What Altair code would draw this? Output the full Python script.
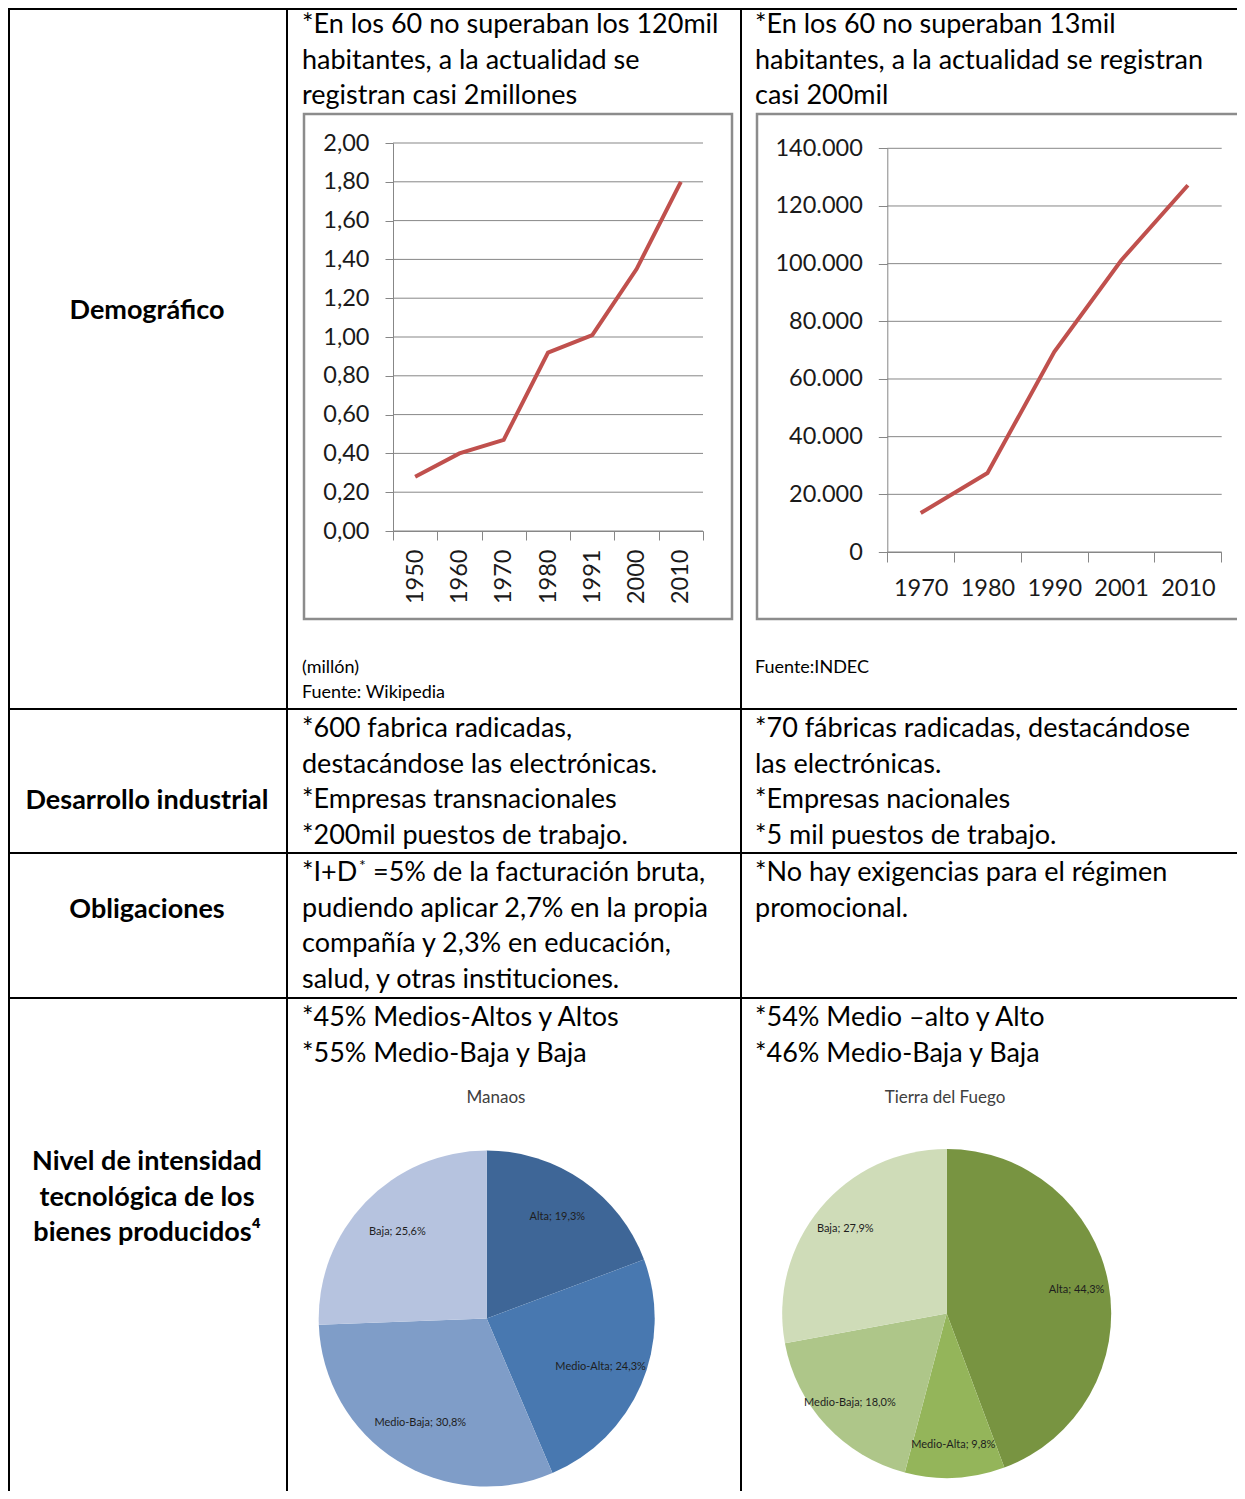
import altair as alt
import pandas as pd

# ---------------- data ----------------
years_manaos = ["1950", "1960", "1970", "1980", "1991", "2000", "2010"]
pop_manaos = [0.28, 0.40, 0.47, 0.92, 1.01, 1.35, 1.80]          # millones
ticks_manaos = [0.0, 0.2, 0.4, 0.6, 0.8, 1.0, 1.2, 1.4, 1.6, 1.8, 2.0]

years_tdf = ["1970", "1980", "1990", "2001", "2010"]
pop_tdf = [13500, 27400, 69400, 101100, 127200]
ticks_tdf = [0, 20000, 40000, 60000, 80000, 100000, 120000, 140000]

pie_cats = ["Alta", "Medio-Alta", "Medio-Baja", "Baja"]
pie_order = [0, 1, 2, 3]
pie_manaos = [19.3, 24.3, 30.8, 25.6]
pie_tdf = [44.3, 9.8, 18.0, 27.9]
colors_manaos = ["#3e6697", "#4878b0", "#7f9dc8", "#b6c3df"]
colors_tdf = ["#789441", "#94b55a", "#aec689", "#cfdcb8"]

row_labels = ["Demográfico", "Desarrollo industrial", "Obligaciones",
              ["Nivel de intensidad", "tecnológica de los", "bienes producidos⁴"]]
demo_manaos = ["*En los 60 no superaban los 120mil", "habitantes, a la actualidad se",
               "registran casi 2millones"]
demo_tdf = ["*En los 60 no superaban 13mil", "habitantes, a la actualidad se registran",
            "casi 200mil"]
src_manaos = ["(millón)", "Fuente: Wikipedia"]
src_tdf = ["Fuente:INDEC"]
ind_manaos = ["*600 fabrica radicadas,", "destacándose las electrónicas.",
              "*Empresas transnacionales", "*200mil puestos de trabajo."]
ind_tdf = ["*70 fábricas radicadas, destacándose", "las electrónicas.",
           "*Empresas nacionales", "*5 mil puestos de trabajo."]
obl_manaos_first = ["*I+D", "*", "=5% de la facturación bruta,"]
obl_manaos_rest = ["pudiendo aplicar 2,7% en la propia", "compañía y 2,3% en educación,",
                   "salud, y otras instituciones."]
obl_tdf = ["*No hay exigencias para el régimen", "promocional."]
niv_manaos = ["*45% Medios-Altos y Altos", "*55% Medio-Baja y Baja"]
niv_tdf = ["*54% Medio –alto y Alto", "*46% Medio-Baja y Baja"]
pie_titles = ["Manaos", "Tierra del Fuego"]

# ---------------- layout constants ----------------
W, H = 1229, 1483
FONT = "Lato"
TS = 27          # table text size
LH = 35.5
GRID = "#878787"
RED = "#c0504d"

dummy = pd.DataFrame({"k": [0]})


def txt(lines, x, y, size=TS, bold=False, align="left", color="black", lh=LH, baseline="alphabetic"):
    return alt.Chart(dummy).mark_text(
        align=align, baseline=baseline, font=FONT, fontSize=size,
        fontWeight="bold" if bold else "normal", lineHeight=lh, color=color
    ).encode(x=alt.value(x), y=alt.value(y), text=alt.value(lines))


def vrule(x):
    return alt.Chart(dummy).mark_rule(color="black", strokeWidth=2).encode(
        x=alt.value(x), y=alt.value(0), y2=alt.value(H))


def hrule(y):
    return alt.Chart(dummy).mark_rule(color="black", strokeWidth=2).encode(
        y=alt.value(y), x=alt.value(0), x2=alt.value(W))


def frame(x0, y0, x1, y1):
    return alt.Chart(dummy).mark_rect(fillOpacity=0, stroke="#8c8c8c", strokeWidth=2.5).encode(
        x=alt.value(x0), y=alt.value(y0), x2=alt.value(x1), y2=alt.value(y1))


layers = []

# table grid
for xv in [1, 279, 733]:
    layers.append(vrule(xv))
for yv in [1, 701, 845, 990]:
    layers.append(hrule(yv))

# column 1 labels
layers.append(txt(row_labels[0], 139, 311, bold=True, align="center"))
layers.append(txt(row_labels[1], 139, 801, bold=True, align="center"))
layers.append(txt(row_labels[2], 139, 910, bold=True, align="center"))
layers.append(txt(row_labels[3], 139, 1162, bold=True, align="center"))

# row texts
layers.append(txt(demo_manaos, 294, 25))
layers.append(txt(demo_tdf, 747, 25))
layers.append(txt(src_manaos, 294, 664.5, size=18, lh=25.7))
layers.append(txt(src_tdf, 747, 664.5, size=18))
layers.append(txt(ind_manaos, 294, 729))
layers.append(txt(ind_tdf, 747, 729))
layers.append(txt(obl_manaos_first[0], 294, 873))
layers.append(txt(obl_manaos_first[1], 351, 863, size=16))
layers.append(txt(obl_manaos_first[2], 365, 873))
layers.append(txt(obl_manaos_rest, 294, 908.5))
layers.append(txt(obl_tdf, 747, 873))
layers.append(txt(niv_manaos, 294, 1018))
layers.append(txt(niv_tdf, 747, 1018))

# chart frames
layers.append(frame(296, 106, 724, 611))
layers.append(frame(749, 106, 1250, 611))

AX_LABEL = dict(labelFont=FONT, labelFontSize=23.5, labelColor="#1a1a1a",
                title=None, grid=False, labelOverlap=False,
                tickColor=GRID, domainColor=GRID)

# ---------------- line chart Manaos ----------------
df_m = pd.DataFrame({"year": years_manaos, "value": pop_manaos})
df_mt = pd.DataFrame({"value": ticks_manaos})
m_yscale = alt.Scale(domain=[0, 2], range=[523, 135], nice=False, zero=False)
m_yaxis = alt.Axis(orient="left", offset=-385, values=ticks_manaos,
                   labelExpr="replace(format(datum.value, '.2f'), '.', ',')",
                   tickSize=8, labelPadding=16, **AX_LABEL)
m_grid = alt.Chart(df_mt).mark_rule(color=GRID, strokeWidth=1).encode(
    y=alt.Y("value:Q", scale=m_yscale, axis=m_yaxis),
    x=alt.value(385), x2=alt.value(695))
m_line = alt.Chart(df_m).mark_line(color=RED, strokeWidth=4).encode(
    x=alt.X("year:O", sort=years_manaos,
            scale=alt.Scale(type="band", domain=years_manaos, range=[385, 695],
                            paddingInner=0, paddingOuter=0),
            axis=alt.Axis(orient="bottom", offset=523 - H, labelAngle=-90, tickBand="extent",
                          tickSize=9, labelPadding=9, **AX_LABEL)),
    y=alt.Y("value:Q", scale=m_yscale, axis=m_yaxis))
layers.append(alt.layer(m_grid, m_line))

# ---------------- line chart Tierra del Fuego ----------------
df_t = pd.DataFrame({"year": years_tdf, "value": pop_tdf})
df_tt = pd.DataFrame({"value": ticks_tdf})
t_yscale = alt.Scale(domain=[0, 140000], range=[544, 140.3], nice=False, zero=False)
t_yaxis = alt.Axis(orient="left", offset=-879.3, values=ticks_tdf,
                   labelExpr="replace(format(datum.value, ',d'), ',', '.')",
                   tickSize=9, labelPadding=16, **AX_LABEL)
t_grid = alt.Chart(df_tt).mark_rule(color=GRID, strokeWidth=1).encode(
    y=alt.Y("value:Q", scale=t_yscale, axis=t_yaxis),
    x=alt.value(879.3), x2=alt.value(1213.7))
t_line = alt.Chart(df_t).mark_line(color=RED, strokeWidth=4).encode(
    x=alt.X("year:O", sort=years_tdf,
            scale=alt.Scale(type="band", domain=years_tdf, range=[879.3, 1213.3],
                            paddingInner=0, paddingOuter=0),
            axis=alt.Axis(orient="bottom", offset=544 - H, labelAngle=0, tickBand="extent",
                          tickSize=10, labelPadding=14, **AX_LABEL)),
    y=alt.Y("value:Q", scale=t_yscale, axis=t_yaxis))
layers.append(alt.layer(t_grid, t_line))


# ---------------- pies ----------------
def pie(values, colors, cx, cy, r, rl):
    df = pd.DataFrame({"cat": pie_cats, "value": values, "ord": pie_order})
    base = alt.Chart(df).transform_calculate(
        label="datum.cat + '; ' + replace(format(datum.value, '.1f'), '.', ',') + '%'")
    arc = base.mark_arc(radius=r).encode(
        theta=alt.Theta("value:Q", stack=True),
        color=alt.Color("cat:N", scale=alt.Scale(domain=pie_cats, range=colors), legend=None),
        order=alt.Order("ord:Q"),
        x=alt.value(cx), y=alt.value(cy))
    lab = base.mark_text(radius=rl, font=FONT, fontSize=11, color="#1e1e1e").encode(
        theta=alt.Theta("value:Q", stack=True),
        detail="cat:N",
        order=alt.Order("ord:Q"),
        text="label:N",
        x=alt.value(cx), y=alt.value(cy))
    return alt.layer(arc, lab)


layers.append(pie(pie_manaos, colors_manaos, 478.7, 1310.5, 168, 124))
layers.append(pie(pie_tdf, colors_tdf, 938.7, 1305.5, 164.5, 132))
layers.append(txt(pie_titles[0], 488, 1090, size=17, align="center", color="#404040", baseline="middle"))
layers.append(txt(pie_titles[1], 937, 1090, size=17, align="center", color="#404040", baseline="middle"))

chart = alt.layer(*layers).resolve_scale(
    x="independent", y="independent", theta="independent", color="independent"
).properties(
    width=W, height=H, autosize=alt.AutoSizeParams(type="none"), padding=0, background="white"
).configure_view(stroke="transparent")

chart.save("out.html", embed_options={"renderer": "svg", "actions": False})
